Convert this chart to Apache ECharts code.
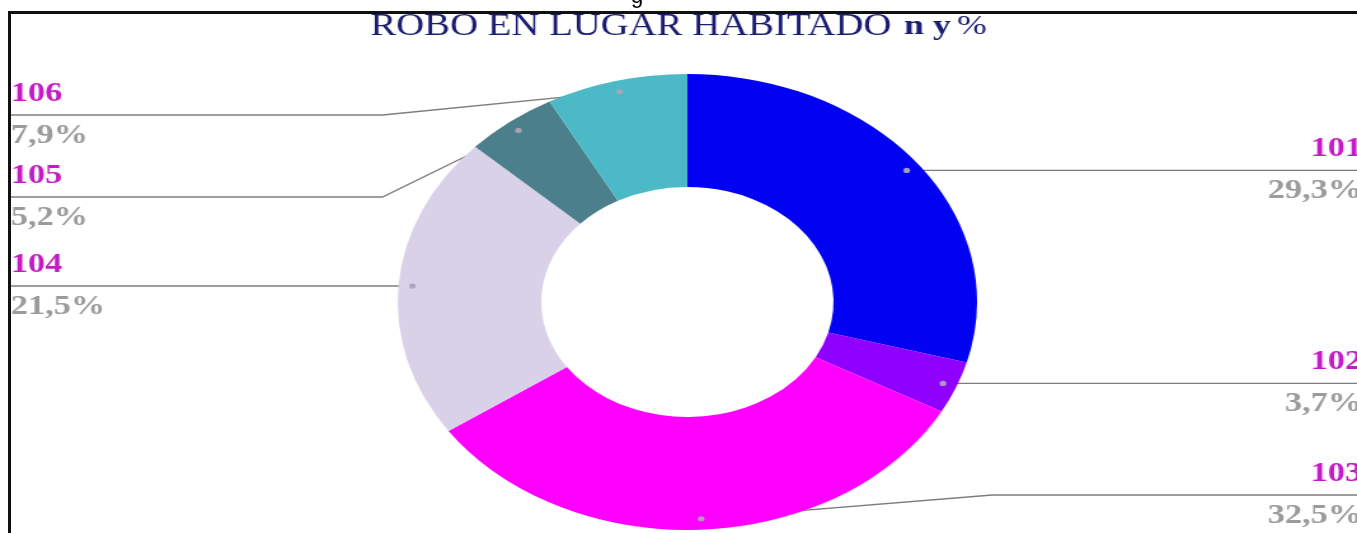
<!DOCTYPE html>
<html>
<head>
<meta charset="utf-8">
<script src="https://cdn.jsdelivr.net/npm/echarts@6/dist/echarts.min.js"></script>
<style>
  html, body { margin: 0; padding: 0; background: #fff; overflow: hidden; }
  #wrap { position: relative; width: 1357px; height: 533px; overflow: hidden; }
  #chart { position: absolute; left: 0; top: 0; width: 1068px; height: 533px; transform: scaleX(1.2706); transform-origin: 0 0; }
  .bl { position: absolute; left: 8px; top: 11px; width: 3px; height: 522px; background: #111; }
  .bt { position: absolute; left: 8px; top: 11px; width: 1349px; height: 3px; background: #111; }
  .frag { position: absolute; left: 631px; top: -15px; font: 22px "Liberation Sans", Arial, sans-serif; line-height: 22px; color: #000; }
</style>
</head>
<body>
<div id="wrap">
  <div id="chart"></div>
  <div class="bl"></div>
  <div class="bt"></div>
  <div class="frag">g</div>
</div>
<script>
// ---- data ----
const categories = ['101', '102', '103', '104', '105', '106'];
const percentages = [29.3, 3.7, 32.5, 21.5, 5.2, 7.9];
const sliceColors = ['#0202f2', '#9000ff', '#ff00ff', '#d8d1e8', '#4a7f8b', '#4bbac6'];
const titleMain = 'ROBO EN LUGAR HABITADO';
const titleSuffix = 'n y';

// ---- layout constants ----
const W = 1068;
const CX = 541, CY = 302;
const R_IN = 115, R_OUT = 228;
const DOT_R = R_OUT - 11;
const ELBOW_R = R_OUT + 12;
const LEFT_X = 8;
const LABEL_Y = [null, null, 495, null, 197, 115];

const chart = echarts.init(document.getElementById('chart'), null, { renderer: 'canvas' });
const dotPts = [];

const fmtPct = v => v.toFixed(1).replace('.', ',') + '%';

const option = {
  animation: false,
  backgroundColor: 'transparent',
  title: {
    left: 'center',
    top: 11,
    padding: 0,
    text: '{a|' + titleMain + '}  {b|' + titleSuffix + '} {c|%}',
    textStyle: {
      fontWeight: 'normal',
      rich: {
        a: { fontFamily: 'Liberation Serif', fontSize: 30.5, fontWeight: 'normal', color: '#1a1c72', lineHeight: 32 },
        b: { fontFamily: 'Liberation Serif', fontSize: 28, fontWeight: 'bold', color: '#1a1c72', lineHeight: 32 },
        c: { fontFamily: 'Liberation Serif', fontSize: 28, fontWeight: 'normal', color: '#1a1c72', lineHeight: 32 }
      }
    }
  },
  series: [{
    type: 'pie',
    center: [CX, CY],
    radius: [R_IN, R_OUT],
    startAngle: 90,
    clockwise: true,
    avoidLabelOverlap: false,
    silent: true,
    itemStyle: { borderWidth: 0 },
    label: {
      show: true,
      position: 'outside',
      formatter: p => '{n|' + p.name + '}\n{p|' + fmtPct(p.value) + '}',
      rich: {
        n: { fontFamily: 'Liberation Serif', fontSize: 27, fontWeight: 'bold', color: '#c41cc4', lineHeight: 42 },
        p: { fontFamily: 'Liberation Serif', fontSize: 27, fontWeight: 'bold', color: '#9b9b9b', lineHeight: 42 }
      }
    },
    labelLine: {
      show: true,
      length: 10,
      length2: 10,
      smooth: false,
      lineStyle: { color: '#7d7d7d', width: 1.3 }
    },
    labelLayout: function (params) {
      const i = params.dataIndex;
      const p0 = params.labelLinePoints[0];
      const dx = p0[0] - CX, dy = p0[1] - CY;
      const len = Math.hypot(dx, dy) || 1;
      const dot = [CX + dx / len * DOT_R, CY + dy / len * DOT_R];
      dotPts[i] = dot;
      const isLeft = dx < 0;
      const y = LABEL_Y[i] == null ? dot[1] : LABEL_Y[i];
      const endX = isLeft ? LEFT_X : W;
      const elbowX = isLeft ? CX - ELBOW_R : CX + ELBOW_R;
      const pts = LABEL_Y[i] == null
        ? [dot, [(dot[0] + endX) / 2, y], [endX, y]]
        : [dot, [elbowX, y], [endX, y]];
      return {
        x: isLeft ? LEFT_X + 0.6 : W + 4,
        y: y,
        align: isLeft ? 'left' : 'right',
        verticalAlign: 'middle',
        labelLinePoints: pts
      };
    },
    data: categories.map((c, i) => ({ name: c, value: percentages[i], itemStyle: { color: sliceColors[i] } }))
  }]
};

chart.setOption(option);
chart.setOption({
  graphic: {
    elements: dotPts.map(p => ({
      type: 'circle', silent: true, z: 100,
      shape: { cx: p[0], cy: p[1], r: 2.6 },
      style: { fill: 'rgba(170,165,185,0.95)' }
    }))
  }
});
</script>
</body>
</html>
